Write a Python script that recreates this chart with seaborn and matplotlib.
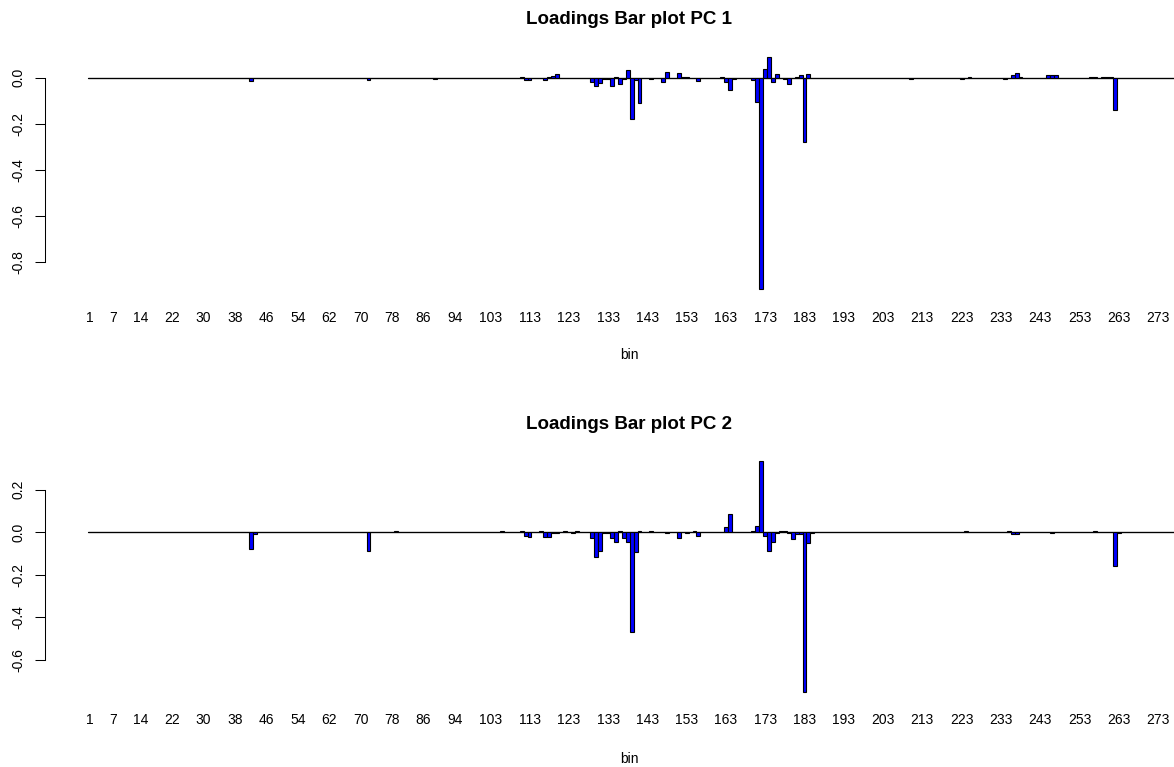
import numpy as np
import pandas as pd
import seaborn as sns
import matplotlib.pyplot as plt

# Bins and the x labels that R left visible
n_bins = 277
bins = np.arange(1, n_bins + 1)
tick_bins = [1, 7, 14, 22, 30, 38, 46, 54, 62, 70, 78, 86, 94, 103, 113, 123, 133, 143,
             153, 163, 173, 183, 193, 203, 213, 223, 233, 243, 253, 263, 273]

# Non-zero loadings (all other bins are 0)
pc1_bins = [42, 72, 89, 111, 112, 113, 117, 118, 119, 120, 129, 130, 131, 132, 133, 134, 135,
            136, 137, 138, 139, 140, 141, 144, 147, 148, 151, 152, 153, 156, 162, 163, 164, 165,
            170, 171, 172, 173, 174, 175, 176, 178, 179, 181, 182, 183, 184, 210, 223, 225, 234,
            236, 237, 238, 245, 246, 247, 256, 257, 259, 260, 261, 262]
pc1_vals = [-0.014, -0.012, -0.005, 0.003, -0.008, -0.008, -0.012, 0.004, 0.008, 0.015,
            -0.017, -0.035, -0.024, -0.005, -0.005, -0.035, 0.003, -0.028, -0.005, 0.033,
            -0.177, -0.01, -0.111, -0.005, -0.02, 0.026, 0.022, 0.005, 0.005, -0.015, 0.005,
            -0.02, -0.054, -0.005, -0.01, -0.104, -0.916, 0.038, 0.091, -0.02, 0.014, -0.005,
            -0.029, 0.005, 0.012, -0.278, 0.014, -0.007, -0.007, 0.005, -0.007, 0.012, 0.022,
            0.004, 0.013, 0.013, 0.013, 0.005, 0.005, 0.004, 0.004, 0.004, -0.138]

pc2_bins = [42, 43, 72, 79, 106, 111, 112, 113, 116, 117, 118, 119, 120, 122, 124, 125, 129,
            130, 131, 132, 133, 134, 135, 136, 137, 138, 139, 140, 141, 144, 146, 148, 151, 153,
            155, 156, 163, 164, 165, 170, 171, 172, 173, 174, 175, 176, 177, 178, 179, 180, 181,
            182, 183, 184, 185, 224, 235, 236, 237, 246, 257, 262, 263]
pc2_vals = [-0.078, -0.01, -0.086, 0.004, 0.004, 0.004, -0.016, -0.023, 0.004, -0.02, -0.02,
            -0.005, -0.005, 0.004, -0.005, 0.005, -0.028, -0.114, -0.086, -0.005, -0.005,
            -0.028, -0.044, 0.005, -0.028, -0.044, -0.469, -0.091, 0.004, 0.004, 0.003, -0.004,
            -0.028, -0.004, 0.004, -0.016, 0.027, 0.084, 0.003, 0.005, 0.03, 0.334, -0.017,
            -0.086, -0.044, -0.004, 0.005, 0.005, -0.005, -0.031, -0.008, -0.008, -0.75,
            -0.052, -0.005, 0.004, 0.004, -0.006, -0.006, -0.005, 0.004, -0.159, -0.005]


def full_loadings(sparse_bins, sparse_vals):
    arr = np.zeros(n_bins)
    arr[np.array(sparse_bins) - 1] = sparse_vals
    return arr


df = pd.DataFrame({'bin': bins,
                   'PC1': full_loadings(pc1_bins, pc1_vals),
                   'PC2': full_loadings(pc2_bins, pc2_vals)})

sns.set_style('white')
plt.rcParams['font.family'] = ['Liberation Sans', 'DejaVu Sans']
plt.rcParams['text.color'] = 'black'
plt.rcParams['xtick.color'] = 'black'
plt.rcParams['ytick.color'] = 'black'
plt.rcParams['axes.labelcolor'] = 'black'

W, H = 1174, 767
fig = plt.figure(figsize=(W / 100, H / 100), dpi=100)


def px_axes(left, top, right, bottom):
    return fig.add_axes([left / W, 1 - bottom / H, (right - left) / W, (bottom - top) / H])


panels = [
    ('PC1', 'Loadings Bar plot PC 1', (47.5, 298.3), (-0.956, 0.131), [0.0, -0.2, -0.4, -0.6, -0.8], 20, 355),
    ('PC2', 'Loadings Bar plot PC 2', (452.2, 700.8), (-0.793, 0.377), [0.2, 0.0, -0.2, -0.4, -0.6], 425, 759),
]

for col, title, (top, bottom), ylim, yticks, title_y, xlab_y in panels:
    ax = px_axes(45, top, W, bottom)
    ax.plot([0.5, n_bins + 0.5], [0, 0], color='black', lw=0.9, zorder=0.5)
    sns.barplot(data=df, x='bin', y=col, native_scale=True, orient='x', width=1,
                color='#0000ff', saturation=1, edgecolor='black', linewidth=0.8,
                errorbar=None, ax=ax)
    ax.set_xlim(-10.35, 277.07)
    ax.set_ylim(*ylim)
    ax.set_xticks(tick_bins)
    ax.set_xticklabels([str(b) for b in tick_bins], fontsize=10, color='black')
    ax.tick_params(axis='x', length=0, pad=9)
    ax.set_yticks(yticks)
    ax.set_yticklabels([f'{v:.1f}' for v in yticks], rotation=90, va='center',
                       fontsize=10, color='black')
    ax.tick_params(axis='y', length=7.2, width=0.75, pad=7, direction='out', color='black', left=True)
    ax.set_xlabel('')
    ax.set_ylabel('')
    for s in ['top', 'right', 'bottom']:
        ax.spines[s].set_visible(False)
    ax.spines['left'].set_bounds(min(yticks), max(yticks))
    ax.spines['left'].set_linewidth(0.75)
    ax.spines['left'].set_color('black')
    ax.set_facecolor('white')
    fig.text(629.5 / W, 1 - title_y / H, title, ha='center', va='center',
             fontweight='bold', fontsize=13.5, color='black')
    fig.text(629.5 / W, 1 - xlab_y / H, 'bin', ha='center', va='center', fontsize=10, color='black')

fig.savefig('out.png', dpi=100)
